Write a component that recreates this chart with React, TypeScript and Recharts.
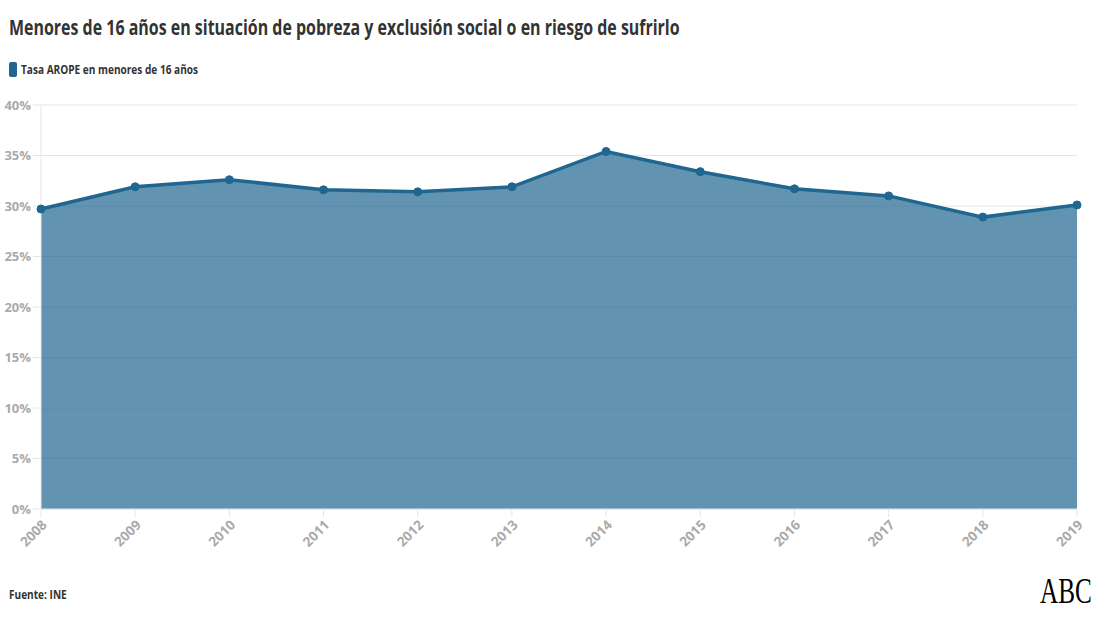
import { AreaChart, Area, XAxis, YAxis, CartesianGrid } from 'recharts';

const years = ['2008', '2009', '2010', '2011', '2012', '2013', '2014', '2015', '2016', '2017', '2018', '2019'];
const aropeRate = [29.7, 31.9, 32.6, 31.6, 31.4, 31.9, 35.4, 33.4, 31.7, 31.0, 28.9, 30.1];
const yTicks = [0, 5, 10, 15, 20, 25, 30, 35, 40];

const data = years.map((year, i) => ({ year, value: aropeRate[i] }));

const font = '"Open Sans", sans-serif';
const lineColor = '#1f6690';

const App = () => {
  return (
    <div style={{ position: 'absolute', left: 0, top: 0, width: 1100, height: 619, background: '#fff', fontFamily: font }}>
      {/* title, squeezed to look like the narrow original font */}
      <div style={{ position: 'absolute', left: 9, top: 13, fontSize: 21, fontWeight: 700, color: '#333', whiteSpace: 'nowrap', transform: 'scaleX(0.76)', transformOrigin: 'left top' }}>
        Menores de 16 años en situación de pobreza y exclusión social o en riesgo de sufrirlo
      </div>
      <span style={{ position: 'absolute', left: 9, top: 62, width: 8, height: 15, borderRadius: 2, background: lineColor }} />
      <div style={{ position: 'absolute', left: 21, top: 61, fontSize: 12, fontWeight: 700, color: '#333', whiteSpace: 'nowrap', transform: 'scaleX(0.84)', transformOrigin: 'left top' }}>
        Tasa AROPE en menores de 16 años
      </div>

      <div style={{ position: 'absolute', left: 0, top: 0 }}>
        <AreaChart width={1100} height={619} data={data} margin={{ top: 105, right: 23, left: 0, bottom: 50 }}>
          <CartesianGrid vertical={false} stroke="#e6e6e6" />
          <XAxis
            dataKey="year"
            interval={0}
            padding={{ left: 0, right: 0 }}
            axisLine={{ stroke: '#e6e6e6' }}
            tickLine={{ stroke: '#e6e6e6' }}
            tickSize={8}
            tickMargin={2}
            angle={-45}
            textAnchor="end"
            height={60}
            tick={{ fill: '#aaa', fontSize: 13.5, fontWeight: 700, fontFamily: font }}
          />
          <YAxis
            width={41}
            domain={[0, 40]}
            ticks={yTicks}
            tickFormatter={(v: number) => `${v}%`}
            axisLine={{ stroke: '#e6e6e6' }}
            tickLine={{ stroke: '#e6e6e6' }}
            tickSize={8}
            tickMargin={2}
            tick={{ fill: '#aaa', fontSize: 13, fontWeight: 700, fontFamily: font }}
          />
          <Area
            type="linear"
            dataKey="value"
            stroke={lineColor}
            strokeWidth={3.5}
            fill={lineColor}
            fillOpacity={0.7}
            dot={{ r: 4, fill: lineColor, fillOpacity: 1, stroke: lineColor, strokeWidth: 1 }}
            activeDot={false}
            isAnimationActive={false}
          />
        </AreaChart>
      </div>

      <div style={{ position: 'absolute', left: 9, top: 586, fontSize: 12, fontWeight: 700, color: '#333', whiteSpace: 'nowrap', transform: 'scaleX(0.84)', transformOrigin: 'left top' }}>
        Fuente: INE
      </div>
      <div style={{ position: 'absolute', left: 1040, top: 573, fontSize: 36, lineHeight: '36px', fontFamily: '"Liberation Serif", serif', color: '#000', whiteSpace: 'nowrap', transform: 'scaleX(0.7)', transformOrigin: 'left top' }}>
        ABC
      </div>
    </div>
  );
};

export default App;
